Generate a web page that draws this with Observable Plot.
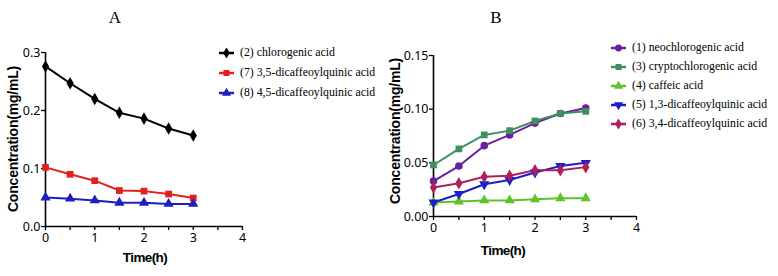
<!DOCTYPE html>
<html><head><meta charset="utf-8">
<script src="https://cdn.jsdelivr.net/npm/d3@7"></script>
<script src="https://cdn.jsdelivr.net/npm/@observablehq/plot@0.6"></script>
<style>
body{margin:0;background:#fff;}
#wrap{position:relative;width:778px;height:276px;overflow:hidden;background:#fff;}
.abs{position:absolute;}
.title{font-family:"Liberation Serif","Times New Roman",serif;font-size:17px;transform:translate(-50%,-50%);}
.xl{font-family:"Liberation Sans",Arial,sans-serif;font-weight:bold;font-size:13.5px;letter-spacing:-0.6px;transform:translate(-50%,-50%);white-space:nowrap;}
.yl{font-family:"Liberation Sans",Arial,sans-serif;font-weight:bold;font-size:14px;transform:translate(-50%,-50%) rotate(-90deg);white-space:nowrap;letter-spacing:-0.2px;}
.leg{font-family:"Liberation Serif","Times New Roman",serif;font-size:11.8px;white-space:nowrap;display:flex;align-items:center;}
.leg svg{margin-right:5px;}
svg.plot text{font-family:"Liberation Sans",Arial,sans-serif;font-weight:bold;letter-spacing:-0.6px;}
</style>
</head><body>
<div id="wrap"></div>
<script>
// ---- data ----
const time = [0, 0.5, 1, 1.5, 2, 2.5, 3];
// Panel A
const seriesA = ["(2) chlorogenic acid", "(7) 3,5-dicaffeoylquinic acid", "(8) 4,5-dicaffeoylquinic acid"];
const chlorogenic = [0.276, 0.247, 0.220, 0.196, 0.186, 0.169, 0.157];
const dicq35 = [0.102, 0.090, 0.079, 0.062, 0.061, 0.056, 0.049];
const dicq45 = [0.050, 0.048, 0.045, 0.041, 0.041, 0.039, 0.039];
const colorsA = ["#000000", "#e3201f", "#1f1fbf"];
const symbolsA = ["diamond", "square", "triangle"];
// Panel B
const seriesB = ["(1) neochlorogenic acid", "(3) cryptochlorogenic acid", "(4) caffeic acid", "(5) 1,3-dicaffeoylquinic acid", "(6) 3,4-dicaffeoylquinic acid"];
const neochlorogenic = [0.033, 0.047, 0.066, 0.076, 0.087, 0.096, 0.101];
const cryptochlorogenic = [0.048, 0.063, 0.076, 0.080, 0.089, 0.096, 0.098];
const caffeic = [0.013, 0.014, 0.015, 0.015, 0.016, 0.017, 0.017];
const dicq13 = [0.013, 0.021, 0.030, 0.034, 0.041, 0.047, 0.050];
const dicq34 = [0.027, 0.031, 0.037, 0.038, 0.043, 0.043, 0.046];
const colorsB = ["#6b1f9a", "#3f8f5f", "#5fc32a", "#1d1dc9", "#b01e5e"];
const symbolsB = ["circle", "square", "triangle", "triangle", "diamond"];
const rotB = [0, 0, 0, 180, 0];
const xTicks = [0, 0.5, 1, 1.5, 2, 2.5, 3, 3.5, 4];
const yTicksA = [0, 0.1, 0.2, 0.3];
const yTicksB = [0, 0.05, 0.10, 0.15];

function rows(names, arrays) {
  const out = [];
  names.forEach((n, i) => arrays[i].forEach((v, j) => out.push({series: n, t: time[j], c: v, i})));
  return out;
}
const dataA = rows(seriesA, [chlorogenic, dicq35, dicq45]);
const dataB = rows(seriesB, [neochlorogenic, cryptochlorogenic, caffeic, dicq13, dicq34]);

const wrap = document.getElementById("wrap");
function place(el, x, y) { el.style.left = x + "px"; el.style.top = y + "px"; el.classList.add("abs"); wrap.appendChild(el); return el; }
function txt(cls, s, x, y) { const d = document.createElement("div"); d.className = cls; d.textContent = s; return place(d, x, y); }

function panel(data, names, colors, symbols, rot, yTicks, yFmt, opts) {
  return Plot.plot({
    width: opts.width, height: 276,
    marginLeft: opts.ml, marginRight: opts.mr, marginTop: opts.mt, marginBottom: opts.mb,
    x: {domain: [0, 4]},
    y: {domain: [0, yTicks[yTicks.length - 1]]},
    color: {domain: names, range: colors},
    symbol: {domain: names, range: symbols},
    marks: [
      Plot.ruleX([0], {stroke: "#000", strokeWidth: 1.6}),
      Plot.ruleY([0], {stroke: "#000", strokeWidth: 1.6}),
      Plot.axisX({ticks: xTicks, tickSize: 4, tickPadding: 3, strokeWidth: 1.3, fontSize: 12.5, tickFormat: d => Number.isInteger(d) ? String(d) : "", label: null, color: "#000"}),
      Plot.axisY({ticks: yTicks, tickSize: 4, tickPadding: 1, strokeWidth: 1.3, fontSize: 12.5, tickFormat: d3.format(yFmt), label: null, color: "#000"}),
      Plot.line(data, {x: "t", y: "c", z: "series", stroke: "series", strokeWidth: 2}),
      Plot.dot(data, {x: "t", y: "c", fill: "series", symbol: "series", r: 3.8, stroke: null, rotate: d => rot[d.i]})
    ]
  });
}

const pA = panel(dataA, seriesA, colorsA, symbolsA, [0,0,0], yTicksA, ".1f", {width: 250, ml: 45, mr: 8, mt: 52, mb: 50});
place(pA, 0, 0);
const pB = panel(dataB, seriesB, colorsB, symbolsB, rotB, yTicksB, ".2f", {width: 262, ml: 53, mr: 6, mt: 55, mb: 60});
place(pB, 380, 0);

txt("title", "A", 115, 18);
txt("title", "B", 496, 18);
txt("xl", "Time(h)", 145, 257);
txt("xl", "Time(h)", 503, 250);
txt("yl", "Concentration(mg/mL)", 13, 139);
txt("yl", "Concentration(mg/mL)", 395, 131);

function legend(names, colors, symbols, rot, x, y0, dy) {
  names.forEach((n, i) => {
    const d = document.createElement("div");
    d.className = "leg";
    const sw = d3.create("svg").attr("width", 17).attr("height", 10);
    sw.append("line").attr("x1", 1).attr("x2", 16).attr("y1", 5).attr("y2", 5).attr("stroke", colors[i]).attr("stroke-width", 2.5);
    const sym = {circle: d3.symbolCircle, square: d3.symbolSquare, triangle: d3.symbolTriangle, diamond: d3.symbolDiamond}[symbols[i]];
    sw.append("path").attr("d", d3.symbol(sym, 36)()).attr("fill", colors[i]).attr("transform", `translate(8.5,5) rotate(${rot[i]})`);
    d.appendChild(sw.node());
    const s = document.createElement("span"); s.textContent = n; d.appendChild(s);
    place(d, x, y0 + i * dy - 8);
  });
}
legend(seriesA, colorsA, symbolsA, [0,0,0], 218, 53, 20);
legend(seriesB, colorsB, symbolsB, rotB, 610, 48, 19);
</script>
</body></html>
